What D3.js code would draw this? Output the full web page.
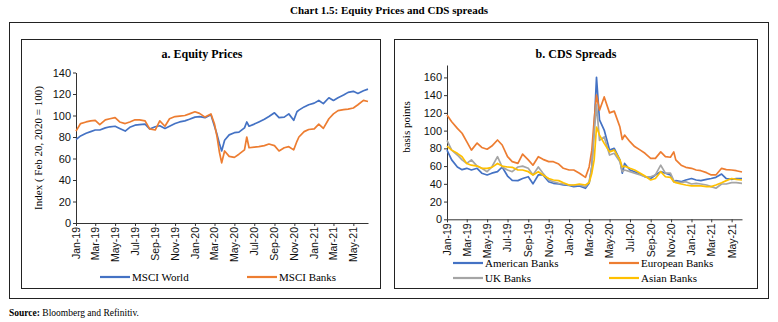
<!DOCTYPE html>
<html>
<head>
<meta charset="utf-8">
<script src="https://cdn.jsdelivr.net/npm/d3@7"></script>
<style>
  body { margin: 0; background: #fff; }
  svg { display: block; font-family: "Liberation Serif", "Times New Roman", serif; }
</style>
</head>
<body>
<div id="chart"></div>
<script>
const width = 778, height = 322;

// ---- data ----
const datesA = ["2019-01-01","2019-01-15","2019-02-01","2019-02-15","2019-03-01","2019-03-15","2019-04-01","2019-04-15",
  "2019-05-01","2019-05-15","2019-06-01","2019-06-15","2019-07-01","2019-07-15","2019-08-01","2019-08-15",
  "2019-09-01","2019-09-15","2019-10-01","2019-10-15","2019-11-01","2019-11-15","2019-12-01","2019-12-15",
  "2020-01-01","2020-01-15","2020-02-01","2020-02-19","2020-03-01","2020-03-09","2020-03-16","2020-03-23",
  "2020-04-01","2020-04-15","2020-05-01","2020-05-15","2020-06-01","2020-06-08","2020-06-15","2020-07-01",
  "2020-07-15","2020-08-01","2020-08-15","2020-09-01","2020-09-15","2020-10-01","2020-10-15","2020-10-30",
  "2020-11-09","2020-11-15","2020-12-01","2020-12-15","2021-01-01","2021-01-15","2021-01-29","2021-02-15",
  "2021-03-01","2021-03-15","2021-04-01","2021-04-15","2021-05-01","2021-05-15","2021-06-01","2021-06-15"];

const msciWorld = [77.5,81,83.5,85,86.5,86.5,88.5,89.5, 90,88,85.5,89,91,91.5,92,87.5,
  89.5,90.5,88,90,92.5,94,95,96.5, 98.5,99,98,100.8,90,82,74,67,
  77,82,84,84.5,88.5,94,90,92, 94,96.5,99,102.5,98,98.5,101.5,95.5,
  103.5,105,108,110,111.5,114,111,116.5, 114,116.5,119,121.5,122.5,120.5,123,124.5];

const msciBanks = [85.5,92.5,94,95,95.5,91.5,96,97, 98,94,92.5,94,96,96,95,87.5,
  86.5,95,90,97,99,99.5,100,101.5, 103.5,102,98.5,101.5,92,80,66,56,
  67,62,61,64,68,80,70,70.5, 71,72,73.5,72,67,70,71,68,
  76,80,85,87,87.5,92,88,97, 101.5,104.5,105.5,106,107,110,114,113];

const datesB = datesA.slice(0, datesA.length - 1);

const americanBanks = [78,67,59,56,57.5,55.6,57.5,52, 50,52,53.7,59,48.8,44,43.6,46,
  48,40,50,50,42.4,40.6,39.8,38.7, 38.3,36.8,37.6,35,40.6,59,104,160,
  112,100.6,78,80,67,52,63,55.6, 53.7,51,48,46,50,53.7,52,50,
  42.4,43.6,42.4,44.3,46,44.3,43.6,45, 46,47.3,51,46,45,46,46];

const europeanBanks = [117.5,110,102.5,97,87.5,78,86,81, 79,82.6,89.4,83.8,70.6,65,63,73.6,
  67,61,70.6,67.6,65,65,62.3,57.5, 55.6,55.6,52,47.3,59,78,112,140,
  123,138,120,122,104,90,95,87.5, 82,78,74.4,68.7,68.7,76,70.6,70,
  76,67,61,58.6,57.5,55.6,54.8,52.6, 50,50,57.5,56,55.6,54.8,53.3];

const ukBanks = [89,78,72.5,67,63,67,60,57.5, 53.7,59,70.6,59,55.6,53.7,59,60,
  57.5,50,59,52,44.3,42.4,40.6,39.8, 38.7,38.3,38.7,36.8,42.4,59,97,129,
  89,93,72.5,74.4,65,53.7,55.6,53.7, 52,50,48,48,50,61,52,52,
  43.6,42.4,41.3,42.4,39.8,40.6,39.8,38.7, 36.8,35,39.8,39.8,41.3,41.3,40.6];

const asianBanks = [82.6,78,74.4,70.6,63,61,60,57.5, 57.5,58.6,63,60,59,58.6,55.6,55.6,
  53.7,50,53.7,50,46,44.3,43.6,41.3, 38.7,38.7,39.8,38.7,41.3,52,67,104,
  95,85.6,76,78,67,59,60,57.5, 55.6,52,48.8,44.3,46,53.7,48,47.3,
  42.4,41.3,39.8,38.7,37.6,37.6,37.6,36.8, 36.8,38.7,41.3,43.6,46,45,44.3];

const tickDates = ["2019-01-01","2019-03-01","2019-05-01","2019-07-01","2019-09-01","2019-11-01",
  "2020-01-01","2020-03-01","2020-05-01","2020-07-01","2020-09-01","2020-11-01",
  "2021-01-01","2021-03-01","2021-05-01"];

const parse = d3.timeParse("%Y-%m-%d");
const fmt = d3.timeFormat("%b-%y");

const svg = d3.select("#chart").append("svg")
  .attr("width", width).attr("height", height);

svg.append("rect").attr("width", width).attr("height", height).attr("fill", "#fff");

// heading + frames
svg.append("text")
  .attr("x", 389).attr("y", 14)
  .attr("text-anchor", "middle")
  .style("font-size", "11px").style("font-weight", "bold")
  .text("Chart 1.5: Equity Prices and CDS spreads");

svg.append("rect").attr("x", 9.5).attr("y", 22.5).attr("width", 759).attr("height", 276)
  .attr("fill", "none").attr("stroke", "#222").attr("stroke-width", 1);

svg.append("rect").attr("x", 21.5).attr("y", 39.5).attr("width", 359).attr("height", 249)
  .attr("fill", "none").attr("stroke", "#222").attr("stroke-width", 1);

svg.append("rect").attr("x", 394.5).attr("y", 39.5).attr("width", 363).attr("height", 249)
  .attr("fill", "none").attr("stroke", "#222").attr("stroke-width", 1);

const source = svg.append("text").attr("x", 9).attr("y", 316).style("font-size", "9.5px");
source.append("tspan").style("font-weight", "bold").text("Source: ");
source.append("tspan").text("Bloomberg and Refinitiv.");

function drawPanel(cfg) {
  const x = d3.scaleTime()
    .domain([parse("2019-01-01"), parse(cfg.end)])
    .range([cfg.left, cfg.right]);
  const y = d3.scaleLinear().domain([0, cfg.ymax]).range([cfg.bottom, cfg.top]);
  const g = svg.append("g");

  g.append("text")
    .attr("x", cfg.titleX).attr("y", 58)
    .attr("text-anchor", "middle")
    .style("font-size", "12px").style("font-weight", "bold")
    .text(cfg.title);

  const yAxis = g.append("g")
    .attr("transform", `translate(${cfg.left},0)`)
    .call(d3.axisLeft(y).tickValues(d3.range(0, cfg.ytop + 1, 20)).tickSize(3).tickSizeOuter(0).tickPadding(2));
  yAxis.select(".domain").attr("stroke", "#333");
  yAxis.selectAll(".tick line").attr("stroke", "#333");
  yAxis.selectAll("text").style("font-size", "11px").attr("fill", "#111").style("font-family", "inherit");

  const xAxis = g.append("g")
    .attr("transform", `translate(0,${cfg.bottom})`)
    .call(d3.axisBottom(x).tickValues(tickDates.map(parse)).tickFormat(fmt).tickSize(3).tickSizeOuter(0));
  xAxis.select(".domain").attr("stroke", "#333");
  xAxis.selectAll(".tick line").attr("stroke", "#333");
  xAxis.selectAll("text")
    .style("font-size", "10.5px").attr("fill", "#111").style("font-family", "inherit")
    .attr("text-anchor", "end")
    .attr("transform", "rotate(-90)")
    .attr("x", -4).attr("y", 0).attr("dy", "0.32em");

  g.append("text")
    .attr("transform", `translate(${cfg.ylabX},${cfg.ylabY}) rotate(-90)`)
    .attr("text-anchor", "middle")
    .style("font-size", "11px")
    .text(cfg.ylabel);

  const line = d3.line()
    .x((d, i) => x(parse(cfg.dates[i])))
    .y(d => y(d));

  cfg.series.forEach(s => {
    g.append("path")
      .datum(s.values)
      .attr("fill", "none")
      .attr("stroke", s.color)
      .attr("stroke-width", 1.7)
      .attr("stroke-linejoin", "round")
      .attr("d", line);
  });

  cfg.series.forEach(s => {
    g.append("line")
      .attr("x1", s.lx).attr("x2", s.lx + 30)
      .attr("y1", s.ly).attr("y2", s.ly)
      .attr("stroke", s.color).attr("stroke-width", 2.2);
    g.append("text")
      .attr("x", s.lx + 32).attr("y", s.ly).attr("dy", "0.35em")
      .style("font-size", "11px")
      .text(s.name);
  });
}

drawPanel({
  title: "a. Equity Prices", titleX: 202,
  left: 76, right: 368, top: 72.5, bottom: 223,
  end: "2021-06-15", ymax: 140, ytop: 140,
  ylabel: "Index ( Feb 20, 2020 = 100)", ylabX: 42, ylabY: 148,
  dates: datesA,
  series: [
    { name: "MSCI World", values: msciWorld, color: "#4472C4", lx: 100, ly: 277 },
    { name: "MSCI Banks", values: msciBanks, color: "#ED7D31", lx: 247, ly: 277 }
  ]
});

drawPanel({
  title: "b. CDS Spreads", titleX: 576,
  left: 447, right: 742, top: 65, bottom: 219.3,
  end: "2021-06-01", ymax: 174, ytop: 160,
  ylabel: "basis points", ylabX: 410, ylabY: 127,
  dates: datesB,
  series: [
    { name: "American Banks", values: americanBanks, color: "#4472C4", lx: 453, ly: 263 },
    { name: "European Banks", values: europeanBanks, color: "#ED7D31", lx: 609, ly: 263 },
    { name: "UK Banks", values: ukBanks, color: "#A5A5A5", lx: 453, ly: 278 },
    { name: "Asian Banks", values: asianBanks, color: "#FFC000", lx: 609, ly: 278 }
  ]
});
</script>
</body>
</html>
